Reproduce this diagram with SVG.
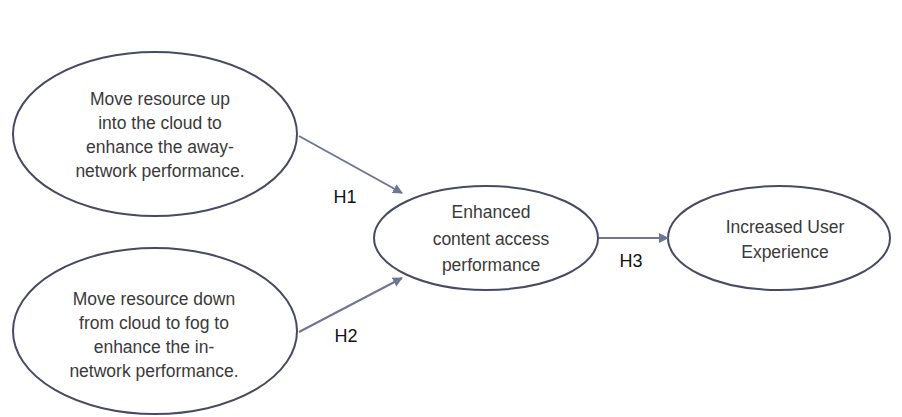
<svg xmlns="http://www.w3.org/2000/svg" width="902" height="417" viewBox="0 0 902 417">
<style>
.node ellipse{fill:#ffffff;stroke:#464a63;stroke-width:2}
.t{font-family:"Liberation Sans","DejaVu Sans",sans-serif;font-size:17.5px;fill:#3a3a3a;text-anchor:middle}
.lbl{font-family:"Liberation Sans","DejaVu Sans",sans-serif;font-size:18px;fill:#111;text-anchor:middle}
.edge{stroke:#6e7596;stroke-width:2;fill:none;marker-end:url(#ah)}
</style>
<defs>
<marker id="ah" viewBox="0 0 10 10" refX="9" refY="5" markerWidth="5" markerHeight="5" orient="auto" markerUnits="strokeWidth">
<path d="M0,0 L10,5 L0,10 z" fill="#6e7596"/>
</marker>
</defs>
<rect width="902" height="417" fill="#ffffff"/>
<g id="n1" class="node">
<ellipse cx="155" cy="134" rx="142" ry="82"/>
<text class="t" x="160" y="105">Move resource up</text>
<text class="t" x="160" y="129">into the cloud to</text>
<text class="t" x="160" y="153">enhance the away-</text>
<text class="t" x="160" y="177">network performance.</text>
</g>
<g id="n2" class="node">
<ellipse cx="155" cy="331" rx="142" ry="83"/>
<text class="t" x="154" y="305">Move resource down</text>
<text class="t" x="154" y="329">from cloud to fog to</text>
<text class="t" x="154" y="353">enhance the in-</text>
<text class="t" x="154" y="377">network performance.</text>
</g>
<g id="n3" class="node">
<ellipse cx="486" cy="238" rx="112" ry="52"/>
<text class="t" x="491" y="218">Enhanced</text>
<text class="t" x="491" y="245">content access</text>
<text class="t" x="491" y="271">performance</text>
</g>
<g id="n4" class="node">
<ellipse cx="779" cy="238" rx="111" ry="52"/>
<text class="t" x="785" y="233">Increased User</text>
<text class="t" x="785" y="258">Experience</text>
</g>
<g id="connectors">
<line class="edge" x1="299" y1="136" x2="402" y2="193"/>
<line class="edge" x1="299" y1="332" x2="402" y2="278"/>
<line class="edge" x1="599" y1="238" x2="668" y2="238"/>
<text class="lbl" x="345" y="203">H1</text>
<text class="lbl" x="346" y="342">H2</text>
<text class="lbl" x="631" y="267">H3</text>
</g>
</svg>
